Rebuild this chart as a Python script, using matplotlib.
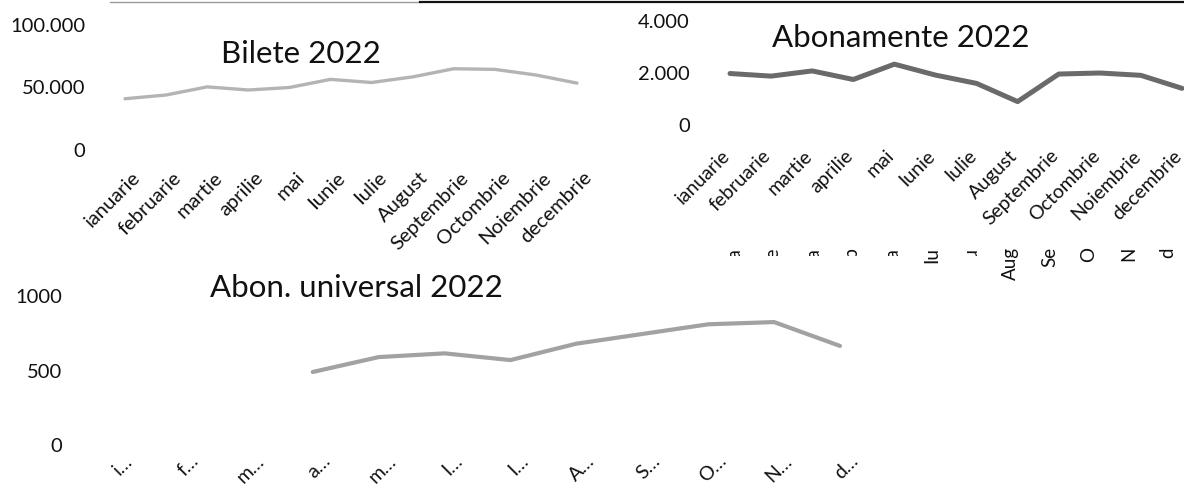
import numpy as np
import matplotlib
matplotlib.use("Agg")
import matplotlib.pyplot as plt
from matplotlib.lines import Line2D
from matplotlib.transforms import ScaledTranslation, Bbox

plt.rcParams['font.family'] = ['Lato', 'DejaVu Sans']

luni = ["ianuarie", "februarie", "martie", "aprilie", "mai", "Iunie", "Iulie",
        "August", "Septembrie", "Octombrie", "Noiembrie", "decembrie"]
luni_scurt = ["i\u2026", "f\u2026", "m\u2026", "a\u2026", "m\u2026", "I\u2026", "I\u2026",
              "A\u2026", "S\u2026", "O\u2026", "N\u2026", "d\u2026"]
luni_taiate = ["ia", "fe", "ma", "ap", "ma", "Iu", "Iu", "Aug", "Se", "O", "N", "d"]

bilete = [41000, 44000, 50500, 48000, 50000, 56500, 54000, 58500, 65000, 64500, 60000, 53500]
abonamente = [1980, 1880, 2080, 1750, 2340, 1920, 1600, 900, 1960, 2000, 1910, 1410]
universal = [np.nan, np.nan, np.nan, 490, 590, 615, 570, 680, 745, 810, 825, 665]

bilete_yticks = [0, 50000, 100000]
bilete_ylabels = ["0", "50.000", "100.000"]
abon_yticks = [0, 2000, 4000]
abon_ylabels = ["0", "2.000", "4.000"]
univ_yticks = [0, 500, 1000]
univ_ylabels = ["0", "500", "1000"]

W, H = 1184, 488
fig = plt.figure(figsize=(W / 100, H / 100), dpi=100)
fig.patch.set_facecolor("white")


def px(v):
    # pixels -> points
    return v * 72 / 100


def panel(x_jan, x_dec, y_zero, y_top, ymax):
    ax = fig.add_axes([x_jan / W, 1 - y_zero / H, (x_dec - x_jan) / W, (y_zero - y_top) / H])
    ax.set_xlim(0, 11)
    ax.set_ylim(0, ymax)
    for s in ax.spines.values():
        s.set_visible(False)
    ax.patch.set_alpha(0)
    ax.tick_params(length=0, labelsize=14.5, labelcolor="#111111")
    return ax


def shift_xlabels(ax, dx):
    off = ScaledTranslation(dx / 100, 0, fig.dpi_scale_trans)
    for lab in ax.get_xticklabels():
        lab.set_transform(lab.get_transform() + off)


x = np.arange(12)

# Bilete 2022
ax1 = panel(125, 577, 150, 25, 100000)
ax1.plot(x, bilete, color="#b4b4b4", lw=2.4, solid_capstyle="round", clip_on=False)
ax1.set_yticks(bilete_yticks, bilete_ylabels)
ax1.tick_params(axis="y", pad=px(40))
ax1.set_xticks(x, luni, rotation=45, ha="right", va="center", rotation_mode="anchor")
ax1.tick_params(axis="x", pad=px(25))
shift_xlabels(ax1, 12)
fig.text(301 / W, 1 - 63 / H, "Bilete 2022", ha="center", va="baseline", fontsize=22.5,
         color="#111111")

# Abonamente 2022
ax2 = panel(730, 1182, 125, 21, 4000)
ax2.plot(x, abonamente, color="#6a6a6a", lw=3.6, solid_capstyle="round", clip_on=False)
ax2.set_yticks(abon_yticks, abon_ylabels)
ax2.tick_params(axis="y", pad=px(40))
ax2.set_xticks(x, luni, rotation=45, ha="right", va="center", rotation_mode="anchor")
ax2.tick_params(axis="x", pad=px(28), labelsize=14)
shift_xlabels(ax2, -3)
fig.text(901 / W, 1 - 47 / H, "Abonamente 2022", ha="center", va="baseline", fontsize=22.5,
         color="#111111")

# cut labels of a hidden chart behind
ax2b = panel(734, 1168, 243, 240, 1)
ax2b.set_yticks([])
ax2b.set_xticks(x, luni_taiate, rotation=90, va="top")
ax2b.tick_params(axis="x", pad=px(4), labelsize=13.5)
for i, lab in enumerate(ax2b.get_xticklabels()):
    if i < 7:
        bottom = 265 if i == 5 else 256
        lab.set_clip_on(True)
        lab.set_clip_box(Bbox([[0, H - bottom], [W, H]]))

# Abon. universal 2022
ax3 = panel(115, 840, 445, 296, 1000)
ax3.plot(x, universal, color="#a2a2a2", lw=3.0, solid_capstyle="round", clip_on=False)
ax3.set_yticks(univ_yticks, univ_ylabels)
ax3.tick_params(axis="y", pad=px(53))
ax3.set_xticks(x, luni_scurt, rotation=45, ha="right", va="center", rotation_mode="anchor")
ax3.tick_params(axis="x", pad=px(13))
ax3.tick_params(axis="x", labelsize=14)
shift_xlabels(ax3, 15)
fig.text(356 / W, 1 - 297 / H, "Abon. universal 2022", ha="center", va="baseline", fontsize=22.5,
         color="#111111")

# scan edge at the top
fig.add_artist(Line2D([110 / W, 420 / W], [1 - 1.5 / H] * 2, color="#9a9a9a", lw=1.0))
fig.add_artist(Line2D([420 / W, 1.0], [1 - 1.5 / H] * 2, color="#111111", lw=1.6))

fig.savefig("out.png", dpi=100)
